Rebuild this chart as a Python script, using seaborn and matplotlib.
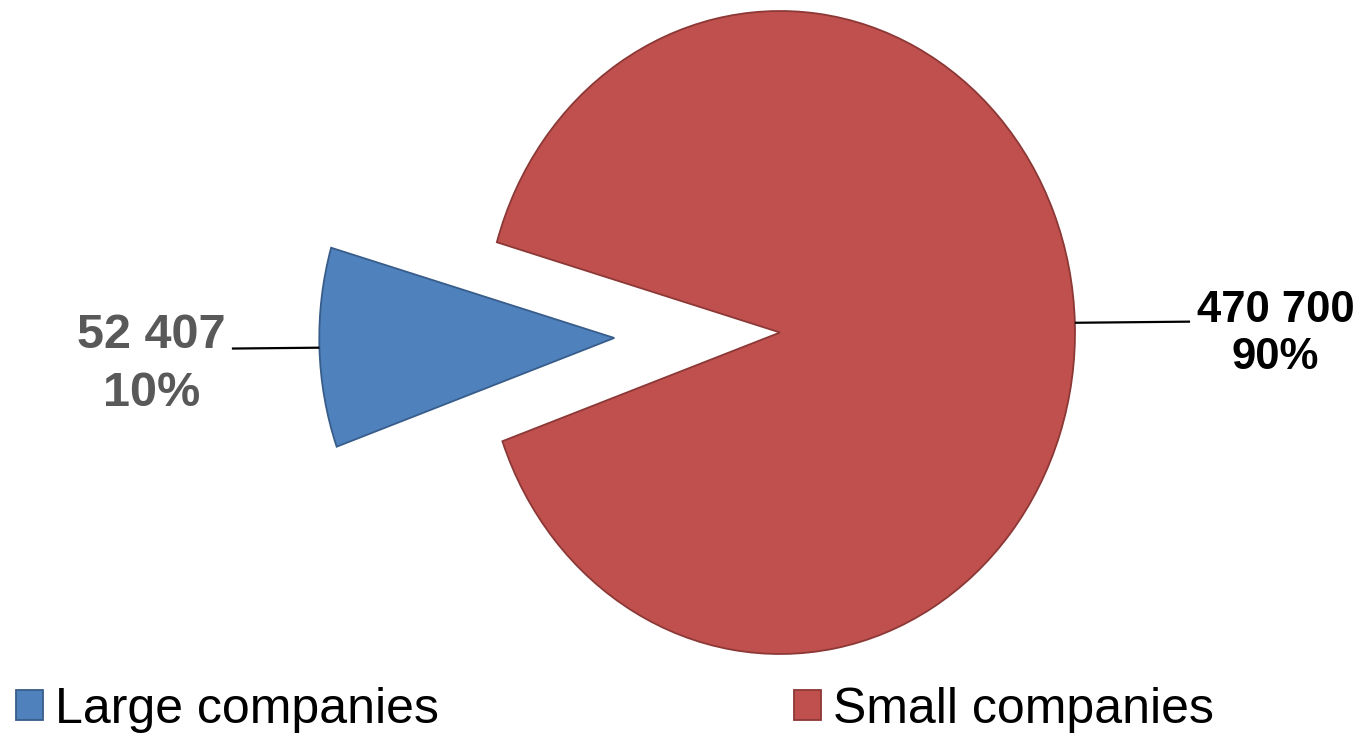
import numpy as np
import matplotlib
matplotlib.use("Agg")
import matplotlib.pyplot as plt
import seaborn as sns

# Company counts by size class
categories = ["Large companies", "Small companies"]
counts = [52407, 470700]
count_labels = ["52 407", "470 700"]
pct_labels = ["10%", "90%"]

sns.set_theme(style="white")
plt.rcParams["font.family"] = ["Liberation Sans", "DejaVu Sans"]

face_colors = ["#4f81bd", "#c0504d"]
edge_colors = ["#385d8a", "#8c3836"]

W, H = 1365, 734
fig = plt.figure(figsize=(W / 100, H / 100), dpi=100)
ax = fig.add_axes([0, 0, 1, 1])

# pie centre and radii in pixels (slightly taller than wide)
cx, cy_top = 780, 332.5
rx, ry = 295, 321.5
cy = H - cy_top

explode = [0.562, 0.0]
start = 163.7
wedges, _ = ax.pie(
    counts,
    explode=explode,
    startangle=start,
    counterclock=True,
    colors=face_colors,
    radius=1.0,
    center=(0, 0),
    frame=True,
    wedgeprops=dict(linewidth=1.3),
)
for w, ec in zip(wedges, edge_colors):
    w.set_edgecolor(ec)
ax.set_xlim(-cx / rx, (W - cx) / rx)
ax.set_ylim(-cy / ry, (H - cy) / ry)
ax.set_aspect("auto")
ax.axis("off")

# leader lines from the middle of each arc to the value labels
fractions = np.array(counts) / np.sum(counts)
theta0 = np.deg2rad(start)
mids = []
acc = theta0
for f in fractions:
    span = 2 * np.pi * f
    mids.append(acc + span / 2)
    acc += span

label_x_end = [-1.858, 1.39]
label_pos = [(-2.13, -0.1), (1.68, -0.005)]
label_colors = ["#595959", "#000000"]
label_sizes = [35, 31.5]
line_sp = [1.36, 1.2]
for i, m in enumerate(mids):
    r0 = 1.0 + explode[i]
    x0, y0 = r0 * np.cos(m), r0 * np.sin(m)
    x1 = label_x_end[i]
    y1 = y0 + (x1 - x0) * np.tan(m) * 0.3
    ax.plot([x0, x1], [y0, y1], color="black", lw=1.6, solid_capstyle="butt", zorder=1)
    ax.text(
        label_pos[i][0], label_pos[i][1],
        f"{count_labels[i]}\n{pct_labels[i]}",
        ha="center", va="center", multialignment="center",
        fontsize=label_sizes[i], fontweight="bold",
        color=label_colors[i], linespacing=line_sp[i],
    )

leg = ax.legend(
    wedges, categories,
    loc="lower left",
    bbox_to_anchor=(16 / W, 1 / H),
    bbox_transform=fig.transFigure,
    ncol=2,
    frameon=False,
    prop=dict(size=36),
    labelcolor="black",
    handlelength=0.54,
    handleheight=0.54,
    handletextpad=0.24,
    columnspacing=7.1,
    borderpad=0,
    borderaxespad=0,
)

fig.savefig("out.png", dpi=100)
